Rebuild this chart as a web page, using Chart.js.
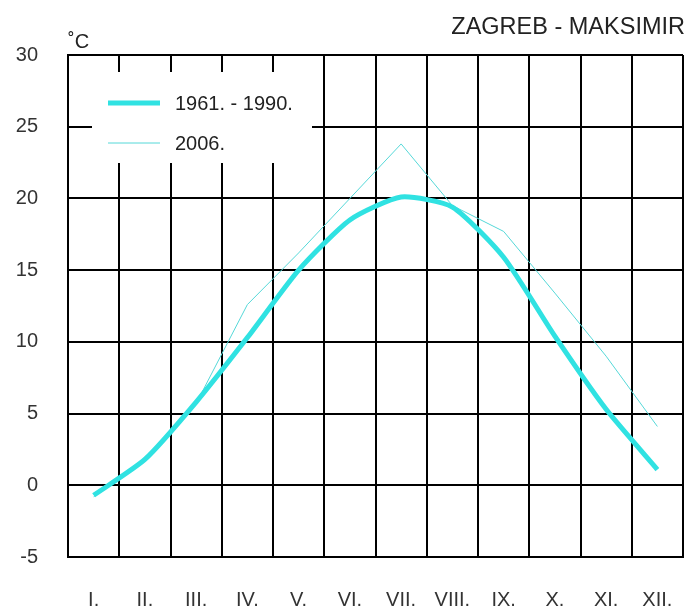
<!DOCTYPE html>
<html>
<head>
<meta charset="utf-8">
<script src="https://cdn.jsdelivr.net/npm/chart.js@4"></script>
<style>
  body { margin: 0; background: #fff; }
  #wrap { width: 690px; height: 612px; }
</style>
</head>
<body>
<div id="wrap"><canvas id="temp-chart" width="690" height="612"></canvas></div>
<script>
const months = ["I.", "II.", "III.", "IV.", "V.", "VI.", "VII.", "VIII.", "IX.", "X.", "XI.", "XII."];
const normal6190 = [-0.7, 1.8, 5.8, 10.3, 15.0, 18.5, 20.1, 19.4, 15.9, 10.4, 5.3, 1.1];
const year2006 = [-0.8, 1.7, 5.7, 12.6, 16.2, 20.0, 23.8, 19.5, 17.7, 13.4, 9.0, 4.1];
const yTicks = [-5, 0, 5, 10, 15, 20, 25, 30];

const titleText = "ZAGREB - MAKSIMIR";
const unitText = "˚C";
const font = "Liberation Sans, Arial, sans-serif";

// title, unit and the white legend box inside the plot
const extras = {
  id: "extras",
  afterDraw(chart) {
    const ctx = chart.ctx;
    const area = chart.chartArea;
    ctx.save();
    ctx.fillStyle = "#222";
    ctx.font = "23.5px " + font;
    ctx.textAlign = "right";
    ctx.textBaseline = "alphabetic";
    ctx.fillText(titleText, 685, 34);

    ctx.textAlign = "left";
    ctx.font = "20px " + font;
    ctx.fillText(unitText, area.left, 48);

    ctx.fillStyle = "#fff";
    ctx.fillRect(area.left + 24, area.top + 17, 220, 91);

    const rows = [area.top + 48, area.top + 88];
    chart.data.datasets.forEach(function (ds, i) {
      ctx.strokeStyle = ds.borderColor;
      ctx.lineWidth = ds.borderWidth;
      ctx.beginPath();
      ctx.moveTo(area.left + 40, rows[i]);
      ctx.lineTo(area.left + 92, rows[i]);
      ctx.stroke();
      ctx.fillStyle = "#222";
      ctx.textBaseline = "middle";
      ctx.fillText(ds.label, area.left + 107, rows[i] + 1);
    });
    ctx.restore();
  },
};

new Chart("temp-chart", {
  type: "line",
  data: {
    labels: months,
    datasets: [
      {
        label: "1961. - 1990.",
        data: normal6190,
        borderColor: "#30e2e2",
        borderWidth: 5,
        tension: 0.2,
        pointRadius: 0,
      },
      {
        label: "2006.",
        data: year2006,
        borderColor: "#55d8d8",
        borderWidth: 1,
        tension: 0,
        pointRadius: 0,
      },
    ],
  },
  options: {
    responsive: false,
    animation: false,
    layout: {
      padding: { top: 55, right: 7, left: 0, bottom: 0 },
    },
    plugins: {
      legend: { display: false },
      title: { display: false },
      tooltip: { enabled: false },
    },
    scales: {
      x: {
        offset: true,
        afterFit(scale) {
          scale.height = 55;
          scale.paddingLeft = 0;
          scale.paddingRight = 0;
        },
        grid: {
          offset: true,
          color: "#000",
          lineWidth: 2,
          drawTicks: false,
        },
        border: { color: "#000", width: 2 },
        ticks: {
          padding: 31,
          maxRotation: 0,
          autoSkip: false,
          color: "#333",
          font: { family: font, size: 20 },
        },
      },
      y: {
        min: -5,
        max: 30,
        afterBuildTicks(scale) {
          scale.ticks = yTicks.map(function (v) { return { value: v }; });
        },
        afterFit(scale) {
          scale.width = 68;
          scale.paddingTop = 0;
          scale.paddingBottom = 0;
        },
        grid: {
          color: "#000",
          lineWidth: 2,
          drawTicks: false,
        },
        border: { color: "#000", width: 2 },
        ticks: {
          padding: 30,
          color: "#333",
          font: { family: font, size: 20 },
        },
      },
    },
  },
  plugins: [extras],
});
</script>
</body>
</html>
